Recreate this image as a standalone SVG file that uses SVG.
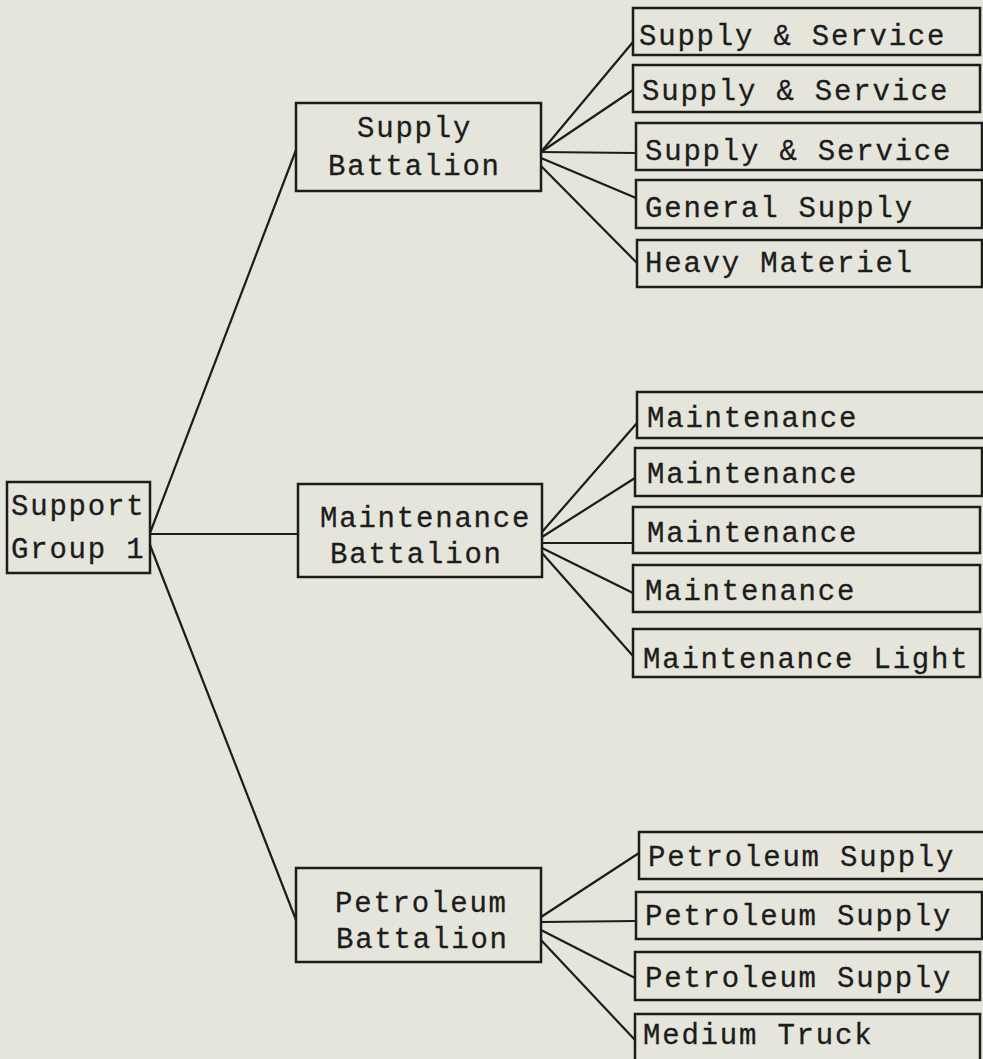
<svg xmlns="http://www.w3.org/2000/svg" width="983" height="1059" viewBox="0 0 983 1059">
<style>
.bx{fill:none;stroke:#1c1c1c;stroke-width:2.5}
.ln{stroke:#1c1c1c;stroke-width:2.2;fill:none}
text{font-family:"Liberation Mono","DejaVu Sans Mono",monospace;font-size:29px;letter-spacing:1.8px;fill:#1c1c1c;stroke:#1c1c1c;stroke-width:0.3}
</style>
<rect width="983" height="1059" fill="#e5e5dc"/>
<g id="connectors">
<line class="ln" x1="150" y1="533" x2="296" y2="150"/>
<line class="ln" x1="150" y1="534" x2="298" y2="534"/>
<line class="ln" x1="150" y1="545" x2="296" y2="920"/>
<line class="ln" x1="541" y1="152" x2="633" y2="42"/>
<line class="ln" x1="541" y1="152" x2="633" y2="90"/>
<line class="ln" x1="541" y1="152" x2="636" y2="153"/>
<line class="ln" x1="541" y1="158" x2="636" y2="198"/>
<line class="ln" x1="541" y1="166" x2="637" y2="263"/>
<line class="ln" x1="542" y1="532" x2="637" y2="423"/>
<line class="ln" x1="542" y1="537" x2="635" y2="478"/>
<line class="ln" x1="542" y1="543" x2="633" y2="543"/>
<line class="ln" x1="542" y1="548" x2="633" y2="593"/>
<line class="ln" x1="542" y1="553" x2="633" y2="656"/>
<line class="ln" x1="541" y1="917" x2="639" y2="853"/>
<line class="ln" x1="541" y1="922" x2="636" y2="921"/>
<line class="ln" x1="541" y1="930" x2="635" y2="978"/>
<line class="ln" x1="541" y1="940" x2="635" y2="1040"/>
</g>
<g id="root"><rect class="bx" x="7" y="482" width="143" height="91"/><text x="11" y="515">Support</text><text x="11" y="558">Group 1</text></g>
<g id="supply-bn"><rect class="bx" x="296" y="103" width="245" height="88"/><text x="357" y="137">Supply</text><text x="328" y="175">Battalion</text></g>
<g id="maint-bn"><rect class="bx" x="298" y="484" width="244" height="93"/><text x="320" y="527">Maintenance</text><text x="330" y="563">Battalion</text></g>
<g id="petro-bn"><rect class="bx" x="296" y="868" width="245" height="94"/><text x="335" y="912">Petroleum</text><text x="336" y="948">Battalion</text></g>
<g id="s1"><rect class="bx" x="633" y="8" width="347" height="47"/><text x="639" y="45">Supply &amp; Service</text></g>
<g id="s2"><rect class="bx" x="633" y="65" width="347" height="47"/><text x="642" y="100">Supply &amp; Service</text></g>
<g id="s3"><rect class="bx" x="636" y="123" width="346" height="47"/><text x="645" y="160">Supply &amp; Service</text></g>
<g id="s4"><rect class="bx" x="636" y="180" width="346" height="48"/><text x="645" y="217">General Supply</text></g>
<g id="s5"><rect class="bx" x="637" y="240" width="345" height="47"/><text x="645" y="272">Heavy Materiel</text></g>
<g id="m1"><rect class="bx" x="637" y="392" width="360" height="46"/><text x="647" y="427">Maintenance</text></g>
<g id="m2"><rect class="bx" x="635" y="448" width="347" height="48"/><text x="647" y="483">Maintenance</text></g>
<g id="m3"><rect class="bx" x="633" y="507" width="347" height="46"/><text x="647" y="542">Maintenance</text></g>
<g id="m4"><rect class="bx" x="633" y="565" width="347" height="47"/><text x="645" y="600">Maintenance</text></g>
<g id="m5"><rect class="bx" x="633" y="629" width="347" height="48"/><text x="643" y="668">Maintenance Light</text></g>
<g id="p1"><rect class="bx" x="639" y="832" width="360" height="47"/><text x="648" y="866">Petroleum Supply</text></g>
<g id="p2"><rect class="bx" x="636" y="892" width="346" height="47"/><text x="645" y="925">Petroleum Supply</text></g>
<g id="p3"><rect class="bx" x="635" y="952" width="345" height="48"/><text x="645" y="987">Petroleum Supply</text></g>
<g id="p4"><rect class="bx" x="635" y="1014" width="345" height="60"/><text x="643" y="1044">Medium Truck</text></g>
</svg>
